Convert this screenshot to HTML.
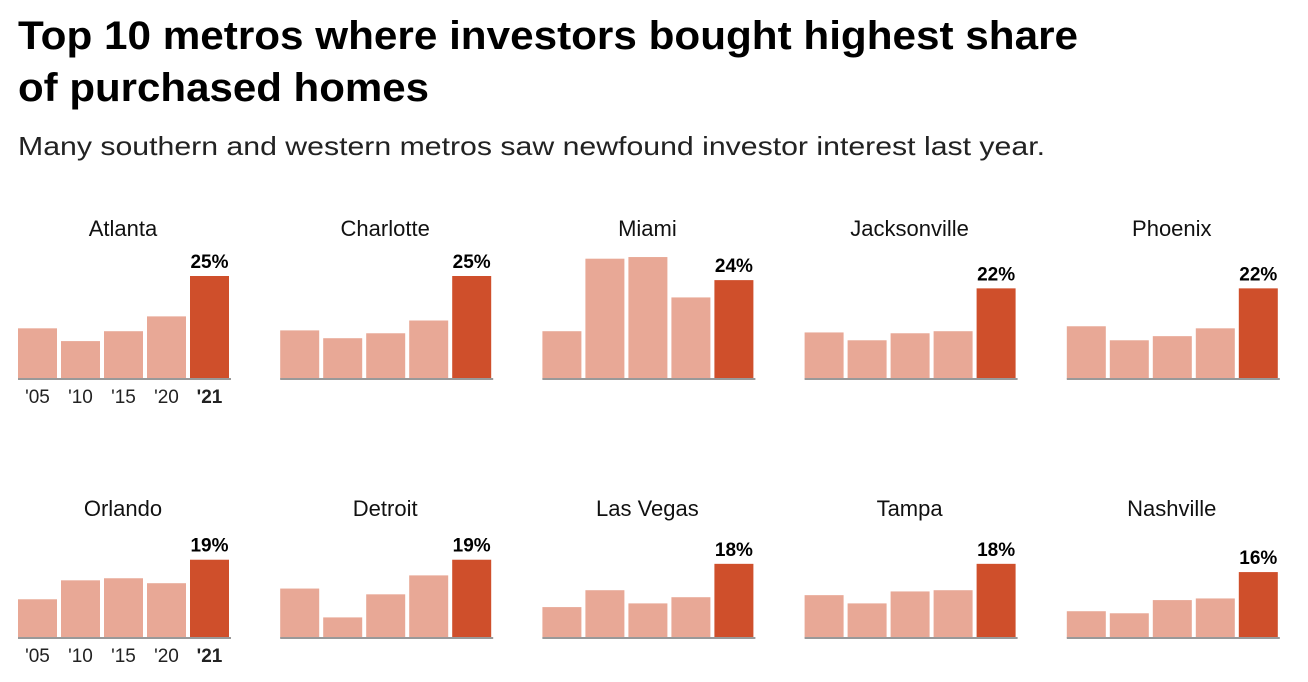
<!DOCTYPE html>
<html><head><meta charset="utf-8"><style>
html,body{margin:0;padding:0;background:#fff;}
svg{display:block;font-family:"Liberation Sans",sans-serif;}
</style></head><body>
<svg id="chart" width="1308" height="682" viewBox="0 0 1308 682">
<text x="18" y="49" font-size="40" font-weight="bold" fill="#000" textLength="1060" lengthAdjust="spacingAndGlyphs">Top 10 metros where investors bought highest share</text>
<text x="18" y="101" font-size="40" font-weight="bold" fill="#000" textLength="411" lengthAdjust="spacingAndGlyphs">of purchased homes</text>
<text x="18" y="155" font-size="26" fill="#222" textLength="1027" lengthAdjust="spacingAndGlyphs">Many southern and western metros saw newfound investor interest last year.</text>
<g id="panels"></g>
</svg>
<script>
const cities = ["Atlanta","Charlotte","Miami","Jacksonville","Phoenix","Orlando","Detroit","Las Vegas","Tampa","Nashville"];
const years = ["'05","'10","'15","'20","'21"];
const share05 = [12.3,11.8,11.6,11.3,12.8,9.4,12,7.5,10.4,6.5];
const share10 = [9.2,9.9,29.2,9.4,9.4,14,5,11.6,8.4,6];
const share15 = [11.6,11.1,29.6,11.1,10.4,14.5,10.6,8.4,11.3,9.2];
const share20 = [15.2,14.2,19.8,11.6,12.3,13.3,15.2,9.9,11.6,9.6];
const share21 = [25,25,24,22,22,19,19,18,18,16];
const labels21 = ["25%","25%","24%","22%","22%","19%","19%","18%","18%","16%"];

const NS="http://www.w3.org/2000/svg";
const g=document.getElementById('panels');
const pxPerPct=4.12;
function yScale(v,base){return base - v*pxPerPct;}
function xBar(panelX,i){return panelX + i*43;}
function mk(tag,attrs){const e=document.createElementNS(NS,tag);for(const k in attrs)e.setAttribute(k,attrs[k]);return e;}

cities.forEach((city,ci)=>{
  const col=ci%5,row=Math.floor(ci/5);
  const px=18+col*262.2;
  const base=row===0?379:638;
  const labelY=row===0?236:516;
  const vals=[share05[ci],share10[ci],share15[ci],share20[ci],share21[ci]];
  const pg=mk('g',{});
  
  
  const t=mk('text',{x:px+105,y:labelY,'font-size':22,'text-anchor':'middle',fill:'#111'});
  t.textContent=city;
  
  
  pg.appendChild(t);
  vals.forEach((v,i)=>{
    const x=xBar(px,i);
    const y=yScale(v,base);
    const r=mk('rect',{x:x,y:y,width:39,height:base-y,fill:i===4?'#cf4f2b':'#e8a896'});
    
    
    pg.appendChild(r);
  });
  const vl=mk('text',{x:xBar(px,4)+19.5,y:yScale(vals[4],base)-8,'font-size':19,'font-weight':'bold','text-anchor':'middle',fill:'#000'});
  vl.textContent=labels21[ci];
  
  
  pg.appendChild(vl);
  const bl=mk('rect',{x:px,y:base-1,width:213,height:2,fill:'#999'});
  
  
  pg.appendChild(bl);
  if(col===0){
    years.forEach((yr,i)=>{
      const tx=mk('text',{x:xBar(px,i)+19.5,y:base+24,'font-size':19,'text-anchor':'middle',fill:'#222','font-weight':i===4?'bold':'normal'});
      tx.textContent=yr;
      
      
      pg.appendChild(tx);
    });
  }
  g.appendChild(pg);
});
</script>
</body></html>
